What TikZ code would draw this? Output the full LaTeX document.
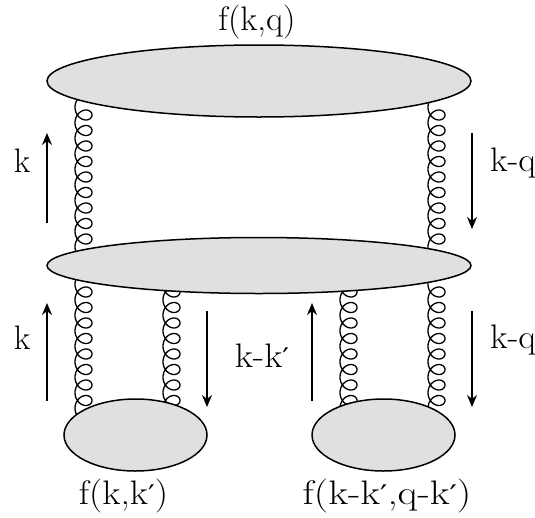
\documentclass[tikz,border=0pt]{standalone}
\usepackage{fontspec}
\usepackage{graphicx}
\newfontfamily\primefont{DejaVu Serif}
\newcommand{\pr}{{\fontsize{27}{27}\selectfont\primefont ′}}
\usetikzlibrary{shapes.geometric,arrows.meta,backgrounds}
\tikzset{
  blob/.style={ellipse,draw=black,line width=1.5pt,fill=black!12,inner sep=0pt},
  gluon/.style={line width=1.3pt,line join=round},
  mom/.style={line width=1.3pt,-{Stealth[length=12pt,width=10pt]}},
  lab/.style={inner sep=0pt,font=\fontsize{34}{36}\selectfont}
}
\begin{document}
\begin{tikzpicture}[x=1pt,y=-1pt]
\useasboundingbox (0,0) rectangle (535,517);
\node[blob,minimum width=424pt,minimum height=72pt] (top) at (259,81) {};
\node[blob,minimum width=424pt,minimum height=56pt] (mid) at (259,265.5) {};
\node[blob,minimum width=143pt,minimum height=72pt] (ll) at (135.5,435) {};
\node[blob,minimum width=143pt,minimum height=72pt] (lr) at (383.5,435) {};
\begin{pgfonlayer}{background}
\coordinate (a1) at (83.5,107.25);
\coordinate (b1) at (436.5,107.25);
\coordinate (c1) at (83.5,284.25);
\coordinate (d1) at (171.5,284.25);
\coordinate (e1) at (348.5,284.25);
\coordinate (g1) at (436.5,284.25);
\foreach \p/\n in {a1/9,b1/9,c1/8,d1/8,e1/8,g1/8}
  \draw[gluon,shift={(\p)}] plot[smooth,variable=\t,domain=-120:{\n*360+120},samples={\n*36+7}]
    ({-8.5*cos(\t)},{\t/360*15.5+8.5*sin(\t)});
\end{pgfonlayer}
\coordinate (m1s) at (47,223); \coordinate (m1e) at (47,133);
\coordinate (m2s) at (472,133); \coordinate (m2e) at (472,229);
\coordinate (m3s) at (47,401); \coordinate (m3e) at (47,303);
\coordinate (m4s) at (207,311); \coordinate (m4e) at (207,407);
\coordinate (m5s) at (312,401); \coordinate (m5e) at (312,303);
\coordinate (m6s) at (472,311); \coordinate (m6e) at (472,407);
\foreach \p/\q in {m1s/m1e,m2s/m2e,m3s/m3e,m4s/m4e,m5s/m5e,m6s/m6e}
  \draw[mom] (\p) -- (\q);
\node[lab] (t1) at (257,22) {\scalebox{1.03}[1]{f(k,q)}};
\node[lab] (t2) at (22,161) {k};
\node[lab] (t3) at (513,163) {\scalebox{1.06}[1]{k-q}};
\node[lab] (t4) at (22,338) {k};
\node[lab] (t5) at (513,340) {\scalebox{1.06}[1]{k-q}};
\node[lab] (t6) at (262,356) {\scalebox{1.1}[1]{k-k\pr}};
\node[lab] (t7) at (123.5,496) {\scalebox{1.1}[1]{f(k,k\pr)}};
\node[lab] (t8) at (387,496) {\scalebox{1.2}[1]{f(k-k\pr,q-k\pr)}};
\end{tikzpicture}
\end{document}
